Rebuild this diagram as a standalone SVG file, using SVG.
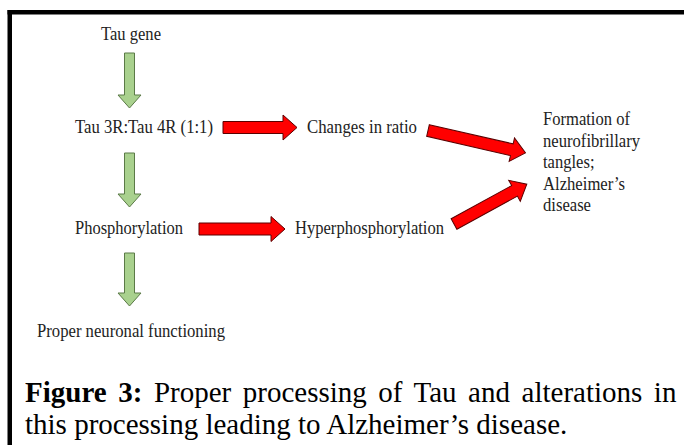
<svg xmlns="http://www.w3.org/2000/svg" width="684" height="445" viewBox="0 0 684 445">
<style>
.t{font-family:"Liberation Serif","Times New Roman",serif;font-size:18px;fill:#222}
.cap{font-family:"Liberation Serif","Times New Roman",serif;font-size:29px;fill:#000}
.g{fill:#a9d18e;stroke:#5b7a47;stroke-width:1}
.r{fill:#ff0000;stroke:#5a0000;stroke-width:1}
</style>
<rect width="684" height="445" fill="#fff"/>
<g id="frame">
<rect x="7.5" y="10" width="4.5" height="435" fill="#000"/>
<rect x="7.5" y="10" width="676.5" height="4.5" fill="#000"/>
</g>
<g id="node-tau-gene"><text class="t" x="101" y="40" textLength="60" lengthAdjust="spacingAndGlyphs">Tau gene</text></g>
<g id="node-tau-ratio"><text class="t" x="75" y="133" textLength="138" lengthAdjust="spacingAndGlyphs">Tau 3R:Tau 4R (1:1)</text></g>
<g id="node-changes"><text class="t" x="307" y="133" textLength="110" lengthAdjust="spacingAndGlyphs">Changes in ratio</text></g>
<g id="node-phos"><text class="t" x="75" y="234" textLength="108" lengthAdjust="spacingAndGlyphs">Phosphorylation</text></g>
<g id="node-hyper"><text class="t" x="295" y="234" textLength="149" lengthAdjust="spacingAndGlyphs">Hyperphosphorylation</text></g>
<g id="node-proper"><text class="t" x="37" y="337" textLength="188" lengthAdjust="spacingAndGlyphs">Proper neuronal functioning</text></g>
<g id="node-formation">
<text class="t" x="543" y="125" textLength="87" lengthAdjust="spacingAndGlyphs">Formation of</text>
<text class="t" x="543" y="146.5" textLength="97" lengthAdjust="spacingAndGlyphs">neurofibrillary</text>
<text class="t" x="543" y="168" textLength="51.5" lengthAdjust="spacingAndGlyphs">tangles;</text>
<text class="t" x="543" y="189.5" textLength="82" lengthAdjust="spacingAndGlyphs">Alzheimer’s</text>
<text class="t" x="543" y="211" textLength="48" lengthAdjust="spacingAndGlyphs">disease</text>
</g>
<g id="connectors">
<polygon class="g" points="124.5,53 134.5,53 134.5,95 141,95 129.5,108 118,95 124.5,95"/>
<polygon class="g" points="124.5,153 134.5,153 134.5,194 141,194 129.5,207 118,194 124.5,194"/>
<polygon class="g" points="124.5,253 134.5,253 134.5,293 141,293 129.5,306 118,293 124.5,293"/>
<polygon class="r" transform="translate(223,127.5)" points="0,-6 60,-6 60,-12.5 74,0 60,12.5 60,6 0,6"/>
<polygon class="r" transform="translate(199,229)" points="0,-6 72,-6 72,-12.5 86,0 72,12.5 72,6 0,6"/>
<polygon class="r" transform="translate(428,130.5) rotate(12.9)" points="0,-6 86,-6 86,-12 100,0 86,12 86,6 0,6"/>
<polygon class="r" transform="translate(454,224) rotate(-28.7)" points="0,-6 69,-6 69,-12 83,0 69,12 69,6 0,6"/>
</g>
<g id="caption">
<text class="cap" x="25" y="402" word-spacing="4.3"><tspan font-weight="bold">Figure 3:</tspan> Proper processing of Tau and alterations in</text>
<text class="cap" x="25" y="434">this processing leading to Alzheimer’s disease.</text>
</g>
</svg>
